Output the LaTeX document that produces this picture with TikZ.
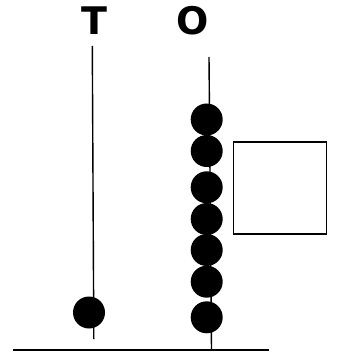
\documentclass[tikz,border=0pt]{standalone}
\usepackage{fontspec}
\setmainfont{DejaVu Sans}
\begin{document}
\begin{tikzpicture}[x=1pt,y=-1pt,
  bead/.style={circle,fill=black,inner sep=0pt,minimum size=32pt},
  rod/.style={line width=1.4pt},
  lbl/.style={font=\bfseries\fontsize{38}{40}\selectfont,inner sep=0pt,anchor=base}]
\useasboundingbox (0,0) rectangle (337,355);
% labels
\node[lbl] (T) at (94.3,35) {T};
\node[lbl] (O) at (192.2,35) {O};
% rods
\coordinate (Ttop) at (92.3,46);
\coordinate (Tbot) at (93.8,339);
\draw[rod] (Ttop) -- (Tbot);
\coordinate (Otop) at (209,57);
\coordinate (Obot) at (211.5,350);
\draw[rod] (Otop) -- (Obot);
% beads
\node[bead] (t1) at (89,312.5) {};
\node[bead] (o1) at (206.7,119.5) {};
\node[bead] (o2) at (206.7,151) {};
\node[bead] (o3) at (206.7,187.3) {};
\node[bead] (o4) at (206.7,219) {};
\node[bead] (o5) at (206.7,250) {};
\node[bead] (o6) at (206.7,281.7) {};
\node[bead] (o7) at (206.7,317.3) {};
% box
\node[draw,line width=1.4pt,minimum width=93pt,minimum height=92pt,inner sep=0pt] (box) at (279.7,188) {};
% base line
\coordinate (bl) at (12.5,350);
\coordinate (br) at (269,350);
\draw[line width=1.4pt] (bl) -- (br);
\end{tikzpicture}
\end{document}
